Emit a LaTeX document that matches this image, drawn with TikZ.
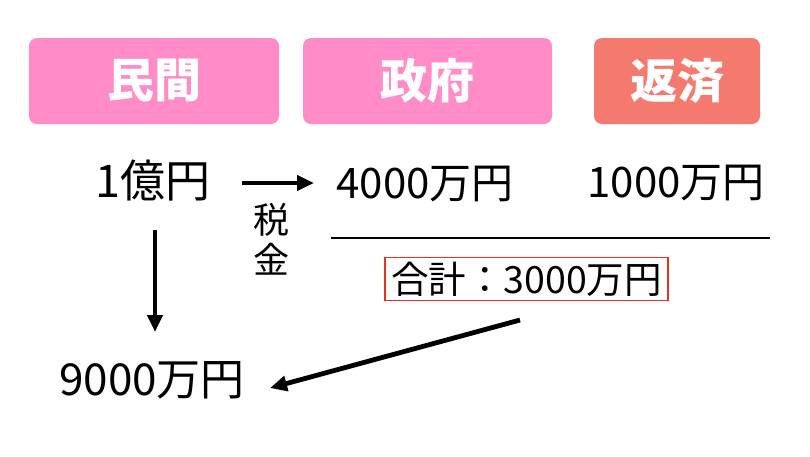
\documentclass[tikz,border=0pt]{standalone}
\usepackage{fontspec}
\setmainfont{Noto Sans CJK JP}
\usetikzlibrary{arrows.meta}
\definecolor{pinkbox}{HTML}{FF8CC6}
\definecolor{salmon}{HTML}{F47A70}
\definecolor{redline}{HTML}{E8321E}
\tikzset{
  header/.style={rounded corners=8pt, inner sep=0pt, text=white, font=\fontsize{47}{50}\selectfont\bfseries, anchor=center},
  amount/.style={inner sep=0pt, font=\fontsize{42}{44}\selectfont, anchor=center},
  bigarrow/.style={line width=4.8pt, -{Triangle[length=17pt,width=15pt]}},
}
\begin{document}
\begin{tikzpicture}[x=1pt,y=-1pt]
\useasboundingbox (0,0) rectangle (810,456);
\node[header, fill=pinkbox, minimum width=250pt, minimum height=86pt] (minkan) at (154,81) {民間};
\node[header, fill=pinkbox, minimum width=249pt, minimum height=86pt] (seifu) at (427.5,81) {政府};
\node[header, fill=salmon, minimum width=166pt, minimum height=86pt] (hensai) at (677,81) {返済};
\node[amount, font=\fontsize{45}{46}\selectfont] (oku) at (153,180) {1億円};
\node[amount] (yon) at (425,184) {4000万円};
\node[amount] (sen) at (676,183) {1000万円};
\node[amount, font=\fontsize{36}{40}\selectfont, align=center] (zei) at (271,239) {税\\金};
\coordinate (lineL) at (331,238);
\coordinate (lineR) at (770,238);
\draw[line width=1.3pt] (lineL) -- (lineR);
\node[amount, font=\fontsize{37.5}{38}\selectfont, draw=redline, line width=1.3pt, inner xsep=6pt, minimum height=43pt] (gokei) at (526.5,279) {合計：3000万円};
\node[amount, font=\fontsize{44}{46}\selectfont] (kyu) at (152,380) {9000万円};
\coordinate (a1s) at (242,183);
\coordinate (a1e) at (314,183);
\draw[bigarrow] (a1s) -- (a1e);
\coordinate (a2s) at (155,230);
\coordinate (a2e) at (155,332);
\draw[bigarrow] (a2s) -- (a2e);
\coordinate (a3s) at (520,320);
\coordinate (a3e) at (270,388);
\draw[bigarrow] (a3s) -- (a3e);
\end{tikzpicture}
\end{document}
